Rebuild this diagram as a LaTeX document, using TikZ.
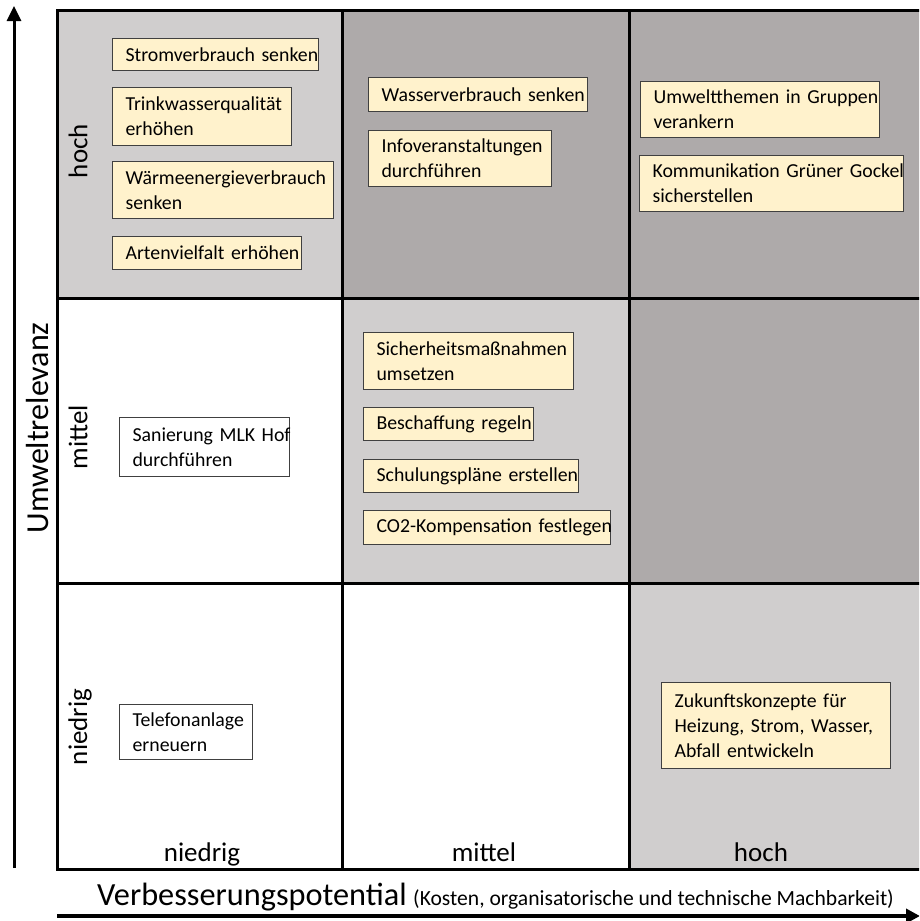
\documentclass[tikz,border=0pt]{standalone}
\usepackage{fontspec}
\setmainfont{Carlito}
\usetikzlibrary{arrows.meta}
\definecolor{lgray}{HTML}{D0CECE}
\definecolor{dgray}{HTML}{AEAAAA}
\definecolor{boxfill}{HTML}{FFF2CC}
\definecolor{boxline}{HTML}{404040}
\newcommand{\bxl}[1]{\mbox{#1}}
\tikzset{
  item/.style={draw=boxline, line width=1.2pt, fill=boxfill, anchor=north west,
    inner xsep=13pt, inner ysep=2pt, align=left,
    font=\fontsize{19.8}{25}\selectfont},
  wbox/.style={item, fill=white},
  rowlab/.style={rotate=90, font=\fontsize{27}{30}\selectfont},
  collab/.style={anchor=base, font=\fontsize{27}{30}\selectfont},
  gridline/.style={line width=3pt, black},
}
\begin{document}
\begin{tikzpicture}[x=1pt,y=-1pt]
\clip (0,0) rectangle (919,921);
% cells
\fill[lgray] (57,10) rectangle (342,298);
\fill[dgray] (342,10) rectangle (922,298);
\fill[white] (57,298) rectangle (342,583);
\fill[lgray] (342,298) rectangle (629,583);
\fill[dgray] (629,298) rectangle (922,583);
\fill[white] (57,583) rectangle (629,869);
\fill[lgray] (629,583) rectangle (922,869);
% grid lines
\draw[gridline] (57,10) rectangle (922,869);
\draw[gridline] (342,10) -- (342,869);
\draw[gridline] (629,10) -- (629,869);
\draw[gridline] (57,298) -- (922,298);
\draw[gridline] (57,583) -- (922,583);
% axes
\coordinate (ya) at (14,868);
\coordinate (yb) at (14,6);
\coordinate (xa) at (57,916);
\coordinate (xb) at (920,916);
\draw[line width=3pt, -{Triangle[width=14pt,length=15pt]}] (ya) -- (yb);
\draw[line width=4pt, -{Triangle[width=14pt,length=14pt]}] (xa) -- (xb);
% axis labels
\node[rotate=90, font=\fontsize{32}{36}\selectfont] (ylab) at (38,428) {Umweltrelevanz};
\node[anchor=base west, inner sep=0pt, font=\fontsize{32.3}{36}\selectfont] (xlab) at (97,905) {Verbesserungspotential};
\node[anchor=base west, inner sep=0pt, font=\fontsize{21.6}{24}\selectfont] (xsub) at (413,905) {(Kosten, organisatorische und technische Machbarkeit)};
% row labels
\node[rowlab] (rhoch) at (78,151) {hoch};
\node[rowlab] (rmittel) at (78,437) {mittel};
\node[rowlab] (rniedrig) at (80,727) {niedrig};
% column labels
\node[collab] (cniedrig) at (202,861) {niedrig};
\node[collab] (cmittel) at (484,861) {mittel};
\node[collab] (choch) at (761,861) {hoch};
% items top-left
\node[item, text width=180pt, minimum height=32pt] (a1) at (112,38) {\bxl{Stromverbrauch senken}};
\node[item, text width=153pt, minimum height=58pt] (a2) at (112,87) {\bxl{Trinkwasserqualität}\\\bxl{erhöhen}};
\node[item, text width=195pt, minimum height=57pt] (a3) at (112,161) {\bxl{Wärmeenergieverbrauch}\\\bxl{senken}};
\node[item, text width=163pt, minimum height=33pt] (a4) at (112,236) {\bxl{Artenvielfalt erhöhen}};
% top-middle
\node[item, text width=193pt, minimum height=34pt] (b1) at (368,77) {\bxl{Wasserverbrauch senken}};
\node[item, text width=157pt, minimum height=56pt] (b2) at (368,130) {\bxl{Infoveranstaltungen}\\\bxl{durchführen}};
% top-right
\node[item, text width=213pt, minimum height=56pt] (c1) at (640,81) {\bxl{Umweltthemen in Gruppen}\\\bxl{verankern}};
\node[item, text width=238pt, minimum height=56pt] (c2) at (639,155) {\bxl{Kommunikation Grüner Gockel}\\\bxl{sicherstellen}};
% middle-middle
\node[item, text width=184pt, minimum height=57pt] (d1) at (363,332) {\bxl{Sicherheitsmaßnahmen}\\\bxl{umsetzen}};
\node[item, text width=144pt, minimum height=33pt] (d2) at (363,407) {\bxl{Beschaffung regeln}};
\node[item, text width=189pt, minimum height=33pt] (d3) at (363,459) {\bxl{Schulungspläne erstellen}};
\node[item, text width=221pt, minimum height=34pt] (d4) at (363,510) {\bxl{CO2-Kompensation festlegen}};
% middle-left
\node[wbox, text width=144pt, minimum height=59pt] (e1) at (119,417) {\bxl{Sanierung MLK Hof}\\\bxl{durchführen}};
% bottom-left
\node[wbox, text width=107pt, minimum height=55pt] (f1) at (119,704) {\bxl{Telefonanlage}\\\bxl{erneuern}};
% bottom-right
\node[item, text width=203pt, minimum height=86pt] (g1) at (661,682) {\bxl{Zukunftskonzepte für}\\\bxl{Heizung, Strom, Wasser,}\\\bxl{Abfall entwickeln}};
\end{tikzpicture}
\end{document}
